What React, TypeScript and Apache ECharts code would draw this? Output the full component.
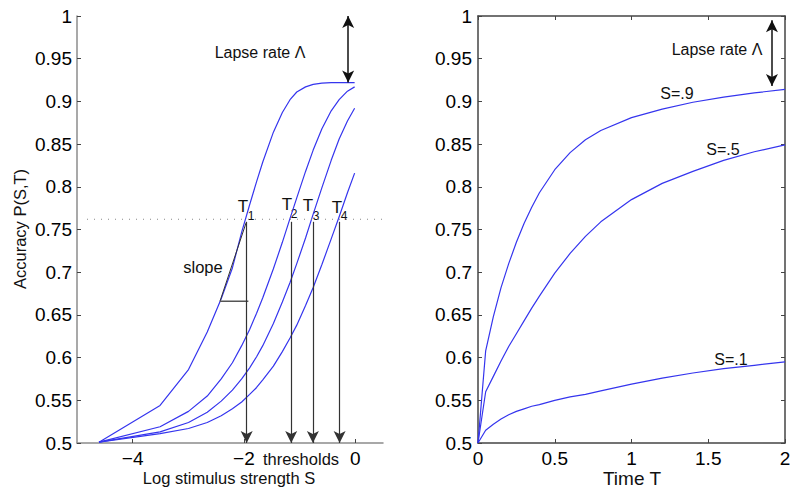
import React, { useEffect, useRef } from "react";
import * as echarts from "echarts";

// ---------- data ----------
// Left panel: log stimulus strength S vs accuracy, one curve per time T1..T4
const LOG_S = [-4.605, -3.507, -2.996, -2.659, -2.408, -2.207, -2.04, -1.897, -1.772, -1.661, -1.47, -1.309, -1.171, -1.05, -0.892, -0.755, -0.598, -0.431, -0.288, -0.139, -0.01];
const ACC_T1 = [0.501, 0.544, 0.586, 0.63, 0.669, 0.705, 0.747, 0.779, 0.806, 0.829, 0.864, 0.887, 0.902, 0.911, 0.917, 0.92, 0.9215, 0.922, 0.922, 0.922, 0.922];
const ACC_T2 = [0.501, 0.519, 0.537, 0.555, 0.575, 0.594, 0.614, 0.633, 0.652, 0.67, 0.704, 0.735, 0.763, 0.787, 0.818, 0.843, 0.868, 0.889, 0.902, 0.912, 0.917];
const ACC_T3 = [0.501, 0.513, 0.524, 0.536, 0.549, 0.562, 0.575, 0.588, 0.601, 0.614, 0.64, 0.665, 0.688, 0.71, 0.74, 0.768, 0.799, 0.831, 0.856, 0.877, 0.892];
const ACC_T4 = [0.501, 0.511, 0.517, 0.524, 0.532, 0.54, 0.548, 0.557, 0.565, 0.574, 0.59, 0.607, 0.623, 0.638, 0.661, 0.682, 0.709, 0.739, 0.765, 0.793, 0.816];
const THRESHOLDS = [-1.95, -1.15, -0.76, -0.28];
const THRESHOLD_ACC = 0.762;
const LAPSE_TOP = 1.0;
const LAPSE_BOTTOM = 0.922;
const LEFT_X_TICKS = [-4, -2, 0];

// Right panel: time T vs accuracy, one curve per stimulus S
const TIME = [0, 0.05, 0.1, 0.15, 0.2, 0.25, 0.3, 0.35, 0.4, 0.5, 0.6, 0.7, 0.8, 1.0, 1.2, 1.4, 1.6, 1.8, 2.0];
const ACC_S9 = [0.5, 0.608, 0.648, 0.682, 0.71, 0.735, 0.757, 0.776, 0.793, 0.82, 0.84, 0.855, 0.866, 0.881, 0.891, 0.899, 0.905, 0.91, 0.914];
const ACC_S5 = [0.5, 0.56, 0.578, 0.596, 0.613, 0.628, 0.643, 0.658, 0.672, 0.699, 0.722, 0.742, 0.759, 0.785, 0.804, 0.818, 0.831, 0.841, 0.849];
const ACC_S1 = [0.5, 0.515, 0.522, 0.528, 0.533, 0.537, 0.54, 0.543, 0.545, 0.55, 0.554, 0.557, 0.561, 0.569, 0.576, 0.582, 0.587, 0.591, 0.595];

const FONT = "'Liberation Sans', Arial, Helvetica, sans-serif";
const BLUE = "#3535ee";

const zip = (xs: number[], ys: number[]) => xs.map((x, i) => [x, ys[i]]);
const fmtY = (v: number) => String(Math.round(v * 100) / 100);
const fmtX = (v: number) => (v < 0 ? "\u2212" + Math.abs(v) : String(Math.round(v * 100) / 100));

export default function App() {
  const ref = useRef<HTMLDivElement>(null);
  useEffect(() => {
    if (!ref.current) return;
    const chart = echarts.init(ref.current, null, { renderer: "svg" });

    const curve = (data: number[][], xi: number, yi: number) => ({
      type: "line",
      xAxisIndex: xi,
      yAxisIndex: yi,
      data,
      symbol: "none",
      showSymbol: false,
      silent: true,
      lineStyle: { color: BLUE, width: 1.2 },
    });

    const axisBase = (color: string) => ({
      type: "value",
      axisLine: { show: true, onZero: false, lineStyle: { color, width: 1.5 } },
      axisTick: { show: true, inside: true, length: 4, lineStyle: { color: "#444", width: 1 } },
      splitLine: { show: false },
    });

    const text = (t: string, x: number, y: number, size: number, extra: any = {}) => ({
      type: "text",
      x,
      y,
      silent: true,
      ...extra,
      style: { text: t, fontSize: size, fontFamily: FONT, fill: "#111", align: "center", verticalAlign: "middle" },
    });

    const option: any = {
      animation: false,
      backgroundColor: "#fff",
      textStyle: { fontFamily: FONT },
      grid: [
        { left: 77, top: 16, width: 306, height: 427 },
        { left: 478, top: 16, width: 307, height: 427 },
      ],
      xAxis: [
        {
          ...axisBase("#8c8c8c"),
          gridIndex: 0,
          min: -5,
          max: 0.5,
          axisTick: { show: true, inside: true, length: 4, customValues: LEFT_X_TICKS, lineStyle: { color: "#444" } },
          axisLabel: { customValues: LEFT_X_TICKS, formatter: fmtX, fontSize: 19, color: "#000", margin: 6, fontFamily: FONT },
        },
        {
          ...axisBase("#444"),
          gridIndex: 1,
          min: 0,
          max: 2,
          interval: 0.5,
          axisLabel: { formatter: fmtX, fontSize: 19, color: "#000", margin: 6, fontFamily: FONT },
        },
        {
          ...axisBase("#444"),
          gridIndex: 1,
          position: "top",
          min: 0,
          max: 2,
          interval: 0.5,
          axisLabel: { show: false },
        },
      ],
      yAxis: [
        {
          ...axisBase("#8c8c8c"),
          gridIndex: 0,
          min: 0.5,
          max: 1,
          interval: 0.05,
          axisLabel: { formatter: fmtY, fontSize: 19, color: "#000", margin: 5, fontFamily: FONT },
        },
        {
          ...axisBase("#444"),
          gridIndex: 1,
          min: 0.5,
          max: 1,
          interval: 0.05,
          axisLabel: { formatter: fmtY, fontSize: 19, color: "#000", margin: 6, fontFamily: FONT },
        },
        {
          ...axisBase("#444"),
          gridIndex: 1,
          position: "right",
          min: 0.5,
          max: 1,
          interval: 0.05,
          axisLabel: { show: false },
        },
      ],
      series: [
        curve(zip(LOG_S, ACC_T1), 0, 0),
        curve(zip(LOG_S, ACC_T2), 0, 0),
        curve(zip(LOG_S, ACC_T3), 0, 0),
        curve(zip(LOG_S, ACC_T4), 0, 0),
        {
          type: "line",
          xAxisIndex: 0,
          yAxisIndex: 0,
          data: [[-4.82, THRESHOLD_ACC], [0.5, THRESHOLD_ACC]],
          symbol: "none",
          silent: true,
          lineStyle: { color: "#888", width: 1, type: [1, 6] },
          markLine: {
            silent: true,
            symbol: ["none", "arrow"],
            symbolSize: [9, 12],
            label: { show: false },
            lineStyle: { color: "#333", width: 1.2, type: "solid" },
            data: THRESHOLDS.map((t) => [{ coord: [t, THRESHOLD_ACC - 0.003] }, { coord: [t, 0.5] }]),
          },
        },
        {
          type: "line",
          xAxisIndex: 0,
          yAxisIndex: 0,
          data: [[-2.43, 0.666], [-1.96, 0.758]],
          symbol: "none",
          silent: true,
          lineStyle: { color: "#333", width: 1 },
        },
        {
          type: "line",
          xAxisIndex: 0,
          yAxisIndex: 0,
          data: [[-2.43, 0.666], [-1.92, 0.666]],
          symbol: "none",
          silent: true,
          lineStyle: { color: "#555", width: 1.5 },
          markLine: {
            silent: true,
            symbol: ["arrow", "arrow"],
            symbolSize: [9, 12],
            label: { show: false },
            lineStyle: { color: "#111", width: 1.5, type: "solid" },
            data: [[{ coord: [-0.126, LAPSE_TOP] }, { coord: [-0.126, LAPSE_BOTTOM] }]],
          },
        },
        curve(zip(TIME, ACC_S9), 1, 1),
        curve(zip(TIME, ACC_S5), 1, 1),
        {
          ...curve(zip(TIME, ACC_S1), 1, 1),
          markLine: {
            silent: true,
            symbol: ["arrow", "arrow"],
            symbolSize: [9, 12],
            label: { show: false },
            lineStyle: { color: "#111", width: 1.5, type: "solid" },
            data: [[{ coord: [1.915, 0.995] }, { coord: [1.915, 0.918] }]],
          },
        },
      ],
      graphic: [
        text("Accuracy P(S,T)", 20, 229, 16.5, { rotation: Math.PI / 2 }),
        text("Log stimulus strength S", 229, 478, 16.5),
        text("thresholds", 301, 459, 16.5),
        text("slope", 203, 267, 16.5),
        text("Lapse rate \u039B", 260, 52, 16),
        text("T", 243, 206, 17),
        text("1", 251, 216, 12),
        text("T", 287, 204, 17),
        text("2", 294, 214, 12),
        text("T", 308, 205, 17),
        text("3", 316, 216, 12),
        text("T", 337, 207, 17),
        text("4", 344, 216, 12),
        text("Time T", 632, 478, 19),
        text("Lapse rate \u039B", 717, 49, 16),
        text("S=.9", 677, 93, 16),
        text("S=.5", 723, 149, 16),
        text("S=.1", 731, 359, 16),
      ],
    };

    chart.setOption(option);
    return () => chart.dispose();
  }, []);

  return (
    <div
      ref={ref}
      style={{ position: "fixed", left: 0, top: 0, width: 800, height: 496, background: "#fff" }}
    />
  );
}
